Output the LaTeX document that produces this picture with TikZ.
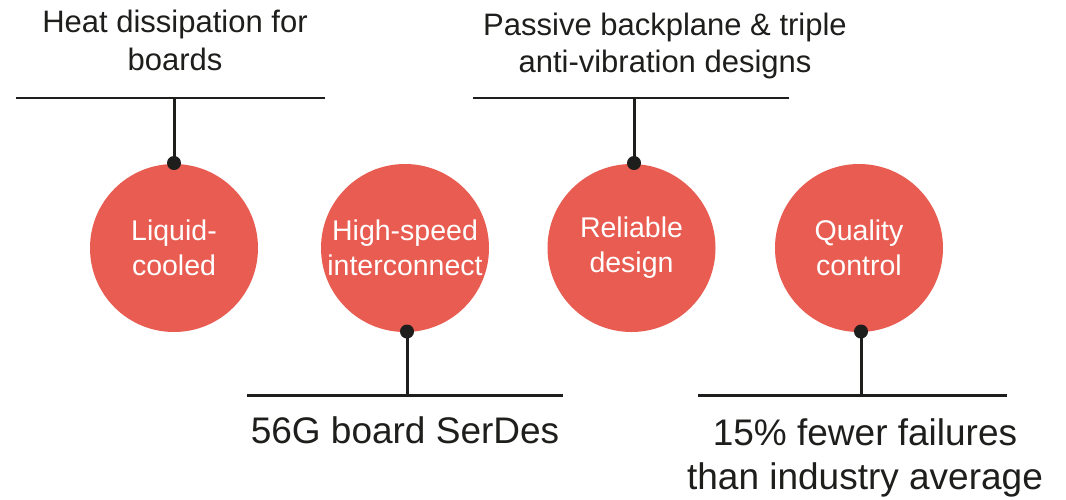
\documentclass[tikz,border=0pt]{standalone}
\usepackage{fontspec}
\setmainfont{Liberation Sans}
\definecolor{bubblered}{RGB}{233,92,81}
\definecolor{inkdark}{RGB}{30,30,28}
\begin{document}
\begin{tikzpicture}[x=1pt,y=-1pt,
  bubble/.style={circle,fill=bubblered,draw=none,minimum size=168pt,inner sep=0pt,
    text=white,align=center,font=\fontsize{28.5}{35}\selectfont},
  pin/.style={circle,fill=inkdark,draw=none,minimum size=14pt,inner sep=0pt},
  bar/.style={draw=inkdark,line width=2.8pt},
  stem/.style={draw=inkdark,line width=3pt},
  toplabel/.style={anchor=base,align=center,inner sep=0pt,text=inkdark,
    font=\fontsize{31}{37.5}\selectfont},
  botlabel/.style={anchor=base,align=center,inner sep=0pt,text=inkdark,
    font=\fontsize{37}{44}\selectfont}]
\useasboundingbox[fill=white] (0,0) rectangle (1066,499);

% bubbles
\node[bubble] (c1) at (174,248) {Liquid-\\cooled};
\node[bubble] (c2) at (405,248) {High-speed\\interconnect};
\node[bubble] (c3) at (631.5,248) {Reliable\\design};
\node[bubble] (c4) at (859,248) {Quality\\control};

% bars
\coordinate (b1l) at (16,98);   \coordinate (b1r) at (325,98);   \coordinate (b1m) at (174,98);
\coordinate (b2l) at (247,395.5); \coordinate (b2r) at (563,395.5); \coordinate (b2m) at (407,395.5);
\coordinate (b3l) at (473,98);  \coordinate (b3r) at (789,98);   \coordinate (b3m) at (634,98);
\coordinate (b4l) at (698,395.5); \coordinate (b4r) at (1007,395.5); \coordinate (b4m) at (861,395.5);
\draw[bar] (b1l) -- (b1r);
\draw[bar] (b2l) -- (b2r);
\draw[bar] (b3l) -- (b3r);
\draw[bar] (b4l) -- (b4r);

% pins
\node[pin] (d1) at (174,163) {};
\node[pin] (d2) at (407,331.5) {};
\node[pin] (d3) at (634,163) {};
\node[pin] (d4) at (861,331.5) {};
\draw[stem] (d1.center) -- (b1m);
\draw[stem] (d2.center) -- (b2m);
\draw[stem] (d3.center) -- (b3m);
\draw[stem] (d4.center) -- (b4m);

% labels (anchor=base is the baseline of the last line)
\node[toplabel] (t1) at (175,70) {Heat dissipation for\\boards};
\node[toplabel] (t3) at (665,72.5) {Passive backplane \& triple\\anti-vibration designs};
\node[botlabel] (t2) at (405,443) {56G board SerDes};
\node[botlabel] (t4) at (865,489) {15\% fewer failures\\than industry average};
\end{tikzpicture}
\end{document}
